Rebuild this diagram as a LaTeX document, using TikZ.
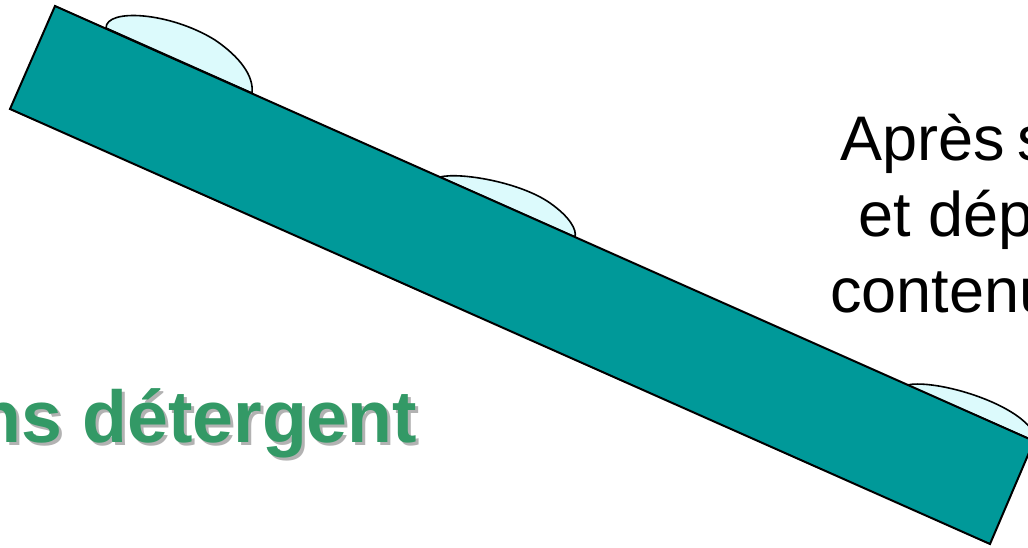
\documentclass[tikz,border=0pt]{standalone}
\usepackage{fontspec}
\setmainfont{Liberation Sans}
\definecolor{barteal}{RGB}{0,153,153}
\definecolor{dropcyan}{RGB}{220,250,252}
\definecolor{titlegreen}{RGB}{51,153,102}
\definecolor{shadowgray}{RGB}{178,178,178}
\tikzset{
  drop/.style={draw=black, line width=1.6pt, fill=dropcyan},
  plate/.style={draw=black, line width=2pt, fill=barteal, line join=miter},
  bodytext/.style={anchor=base west, inner sep=0pt, font=\fontsize{63}{75}\selectfont, text=black},
  greentext/.style={anchor=base west, inner sep=0pt, font=\fontsize{73.5}{80}\selectfont\bfseries, text=titlegreen},
  shadowtext/.style={anchor=base west, inner sep=0pt, font=\fontsize{73.5}{80}\selectfont\bfseries, text=shadowgray}
}
\begin{document}
\begin{tikzpicture}[x=1pt, y=-1pt]
\useasboundingbox (0,0) rectangle (1028,547);
\clip (0,0) rectangle (1028,547);
\fill[white] (0,0) rectangle (1028,547);
% drops
\draw[drop] (106,28) .. controls (106,8) and (170,12) .. (215,40) .. controls (240,57) and (254,76) .. (252,93) -- cycle;
\draw[drop] (440,177) .. controls (460,172) and (520,182) .. (550,203) .. controls (570,217) and (577,230) .. (575,237) -- cycle;
\draw[drop] (907,385) .. controls (930,380) and (990,395) .. (1020,418) .. controls (1035,430) and (1040,440) .. (1034,441) -- cycle;
% plate
\draw[plate] (55,6) -- (1034,441) -- (990,544) -- (10,109) -- cycle;
% texts
\node[bodytext] (l1) at (840,160) {Après\hspace{0.2em}s};
\node[bodytext] (l2) at (858,236) {et dép};
\node[bodytext] (l3) at (830,312) {contenu};
\node[shadowtext] (gs) at (-21,445) {ns détergent};
\node[greentext] (g) at (-24,442) {ns détergent};
\end{tikzpicture}
\end{document}
